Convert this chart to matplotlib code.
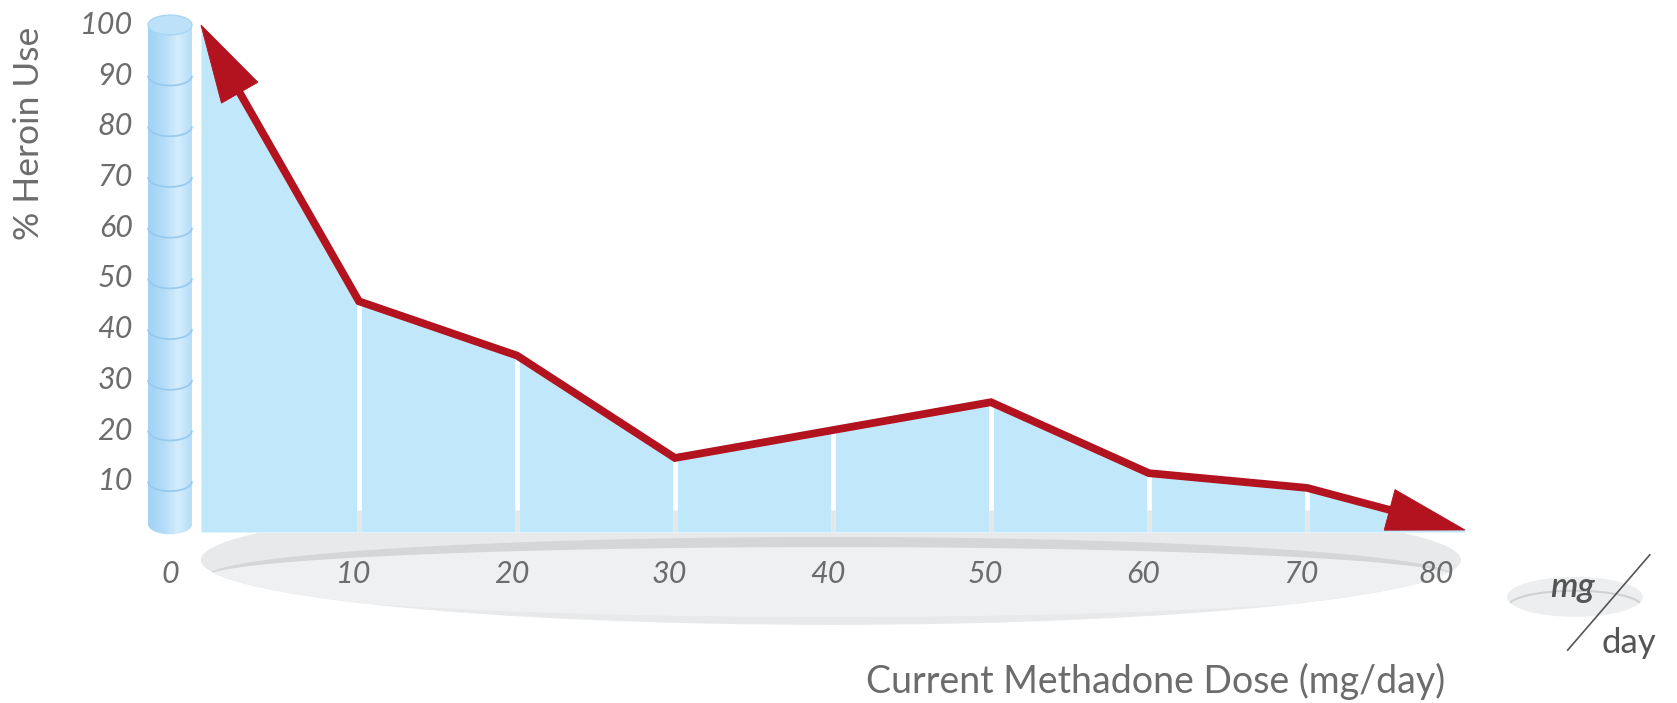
import numpy as np
import matplotlib
matplotlib.use("Agg")
import matplotlib.pyplot as plt
from matplotlib.patches import Ellipse, Arc, Polygon, PathPatch, Rectangle
from matplotlib.path import Path

# ---- data -------------------------------------------------------------
dose = [0, 10, 20, 30, 40, 50, 60, 70, 80]
heroin_pct = [100, 45.5, 34.8, 14.6, 20.1, 25.6, 11.6, 8.7, 0.4]
x_ticks = [0, 10, 20, 30, 40, 50, 60, 70, 80]
y_ticks = [10, 20, 30, 40, 50, 60, 70, 80, 90, 100]
x_label = "Current Methadone Dose (mg/day)"
y_label = "% Heroin Use"
unit_top, unit_bottom = "mg", "day"

# ---- style ------------------------------------------------------------
FILL = "#C0E8FA"
RED = "#B3121F"
TEXT = "#6C6C6C"
FONT = ["Lato", "DejaVu Sans"]

fig = plt.figure(figsize=(16.77, 7.03), dpi=100)
ax = fig.add_axes([0, 0, 1, 1])
ax.set_xlim(-12.72, 93.42)
ax.set_ylim(-33.73, 104.93)
ax.axis("off")

# ---- floor disc under the x axis ---------------------------------------
below_base = Rectangle((-20, -40), 130, 39.8, transform=ax.transData)
disc = Ellipse((39.87, -5.52), 79.75, 25.6, facecolor="#E8E9EA", edgecolor="none", zorder=1)
ax.add_patch(disc)
disc.set_clip_path(below_base)

face_c, face_w = (39.87, -8.88), 79.1
face = Ellipse(face_c, face_w, 15.8, facecolor="#EEF0F1", edgecolor="none", zorder=1.1)
ax.add_patch(face)
face.set_clip_path(disc)


def half_top(cx, cy, w, h, n=200):
    a = np.linspace(0, np.pi, n)
    return np.column_stack([cx + w / 2 * np.cos(a), cy + h / 2 * np.sin(a)])


# thin darker rim along the far edge of the disc face
outer = half_top(face_c[0], face_c[1], face_w, 15.8)
inner = half_top(face_c[0], face_c[1], face_w, 11.8)[::-1]
rim = Polygon(np.vstack([outer, inner]), closed=True, facecolor="#D5D6D8",
              edgecolor="none", zorder=1.2)
ax.add_patch(rim)
rim.set_clip_path(disc)

# ---- stacked cylinder used as the y axis --------------------------------
cx0, cx1 = -3.35, -0.57
cxm, cw = (cx0 + cx1) / 2, cx1 - cx0
ytop, ybot, cap_h = 100.0, 1.5, 3.9

t = np.linspace(np.pi, 2 * np.pi, 40)
bottom_arc = np.column_stack([cxm + cw / 2 * np.cos(t), ybot + cap_h / 2 * np.sin(t)])
t2 = np.linspace(0, np.pi, 40)
top_arc = np.column_stack([cxm + cw / 2 * np.cos(t2), ytop + cap_h / 2 * np.sin(t2)])
outline = np.vstack([[[cx0, ytop]], bottom_arc, [[cx1, ytop]], top_arc])
cyl_path = PathPatch(Path(outline, closed=True), facecolor="none", edgecolor="none",
                     transform=ax.transData)
ax.add_patch(cyl_path)

stops = np.array([[0.0, 0xA2, 0xD2, 0xF5],
                  [0.35, 0xB4, 0xDC, 0xF8],
                  [0.68, 0xD4, 0xED, 0xFC],
                  [1.0, 0xB6, 0xDD, 0xF8]])
s = np.linspace(0, 1, 200)
grad = np.stack([np.interp(s, stops[:, 0], stops[:, k]) for k in (1, 2, 3)], axis=-1) / 255
img = ax.imshow(grad[None, :, :], extent=[cx0, cx1, ybot - cap_h, ytop + cap_h],
                aspect="auto", interpolation="bilinear", zorder=2)
img.set_clip_path(cyl_path)

for v in y_ticks[:-1]:
    ax.add_patch(Arc((cxm, v), cw, cap_h, theta1=180, theta2=360,
                     color="#98CAEF", lw=1.3, zorder=2.2))
ax.add_patch(Ellipse((cxm, ytop), cw, cap_h, facecolor="#BDE1F9",
                     edgecolor="#A8D5F5", lw=1, zorder=2.3))

# ---- area under the curve ---------------------------------------------
ax.fill_between(dose, 0, heroin_pct, color=FILL, lw=0, zorder=3)
for xv, yv in zip(dose[1:-1], heroin_pct[1:-1]):
    ax.plot([xv, xv], [0, yv], color="white", lw=3.4, solid_capstyle="butt", zorder=3.2)
    ax.plot([xv, xv], [0, 4.3], color="#E3E7EA", lw=3.4, solid_capstyle="butt", zorder=3.3)

# ---- red trend line with arrow heads at both ends -----------------------
pts = ax.transData.transform(np.column_stack([dose, heroin_pct]))
inv = ax.transData.inverted()


def arrow_head(tip, prev, length=78.0, width=42.0):
    d = tip - prev
    d = d / np.hypot(*d)
    n = np.array([-d[1], d[0]])
    base = tip - d * length
    poly = np.array([tip, base + n * width / 2, base - n * width / 2])
    return base + d * 3, poly


start_base, head0 = arrow_head(pts[0], pts[1])
end_base, head1 = arrow_head(pts[-1], pts[-2])
line_pts = pts.copy()
line_pts[0], line_pts[-1] = start_base, end_base
line_data = inv.transform(line_pts)
ax.plot(line_data[:, 0], line_data[:, 1], color=RED, lw=5.6,
        solid_joinstyle="miter", solid_capstyle="butt", zorder=4)
for hp in (head0, head1):
    ax.add_patch(Polygon(inv.transform(hp), closed=True, facecolor=RED,
                         edgecolor=RED, lw=0.6, zorder=4.1))

# ---- tick labels --------------------------------------------------------
for v in y_ticks:
    ax.text(-4.3, v, str(v), ha="right", va="center", fontsize=22, style="italic",
            color=TEXT, family=FONT, zorder=5)
for v in x_ticks:
    xpos = cxm if v == 0 else (78.2 if v == x_ticks[-1] else v - 0.35)
    ax.text(xpos, -8.3, str(v), ha="center", va="center", fontsize=22, style="italic",
            color=TEXT, family=FONT, zorder=5)

# ---- axis titles --------------------------------------------------------
ax.text(-10.9, 78.7, y_label, rotation=90, ha="center", va="center", fontsize=25.5,
        color=TEXT, family=FONT)
ax.text(60.4, -29.4, x_label, ha="center", va="center", fontsize=27,
        color=TEXT, family=FONT)

# ---- mg/day badge -------------------------------------------------------
badge = Ellipse((86.96, -12.8), 8.6, 7.9, facecolor="#EDEEEF", edgecolor="none", zorder=1)
ax.add_patch(badge)
brim = Arc((86.96, -14.6), 8.4, 6.0, theta1=0, theta2=180, color="#D0D1D3", lw=1.5, zorder=1.1)
ax.add_patch(brim)
brim.set_clip_path(badge)
ax.text(86.8, -10.8, unit_top, ha="center", va="center", fontsize=25, style="italic",
        fontweight="semibold", color="#555555", family=FONT, zorder=5)
ax.text(90.4, -21.9, unit_bottom, ha="center", va="center", fontsize=25,
        color="#555555", family=FONT, zorder=5)
ax.plot([86.5, 91.7], [-23.3, -4.5], color="#555555", lw=1.2, zorder=5)

fig.savefig("out.png", dpi=100)
